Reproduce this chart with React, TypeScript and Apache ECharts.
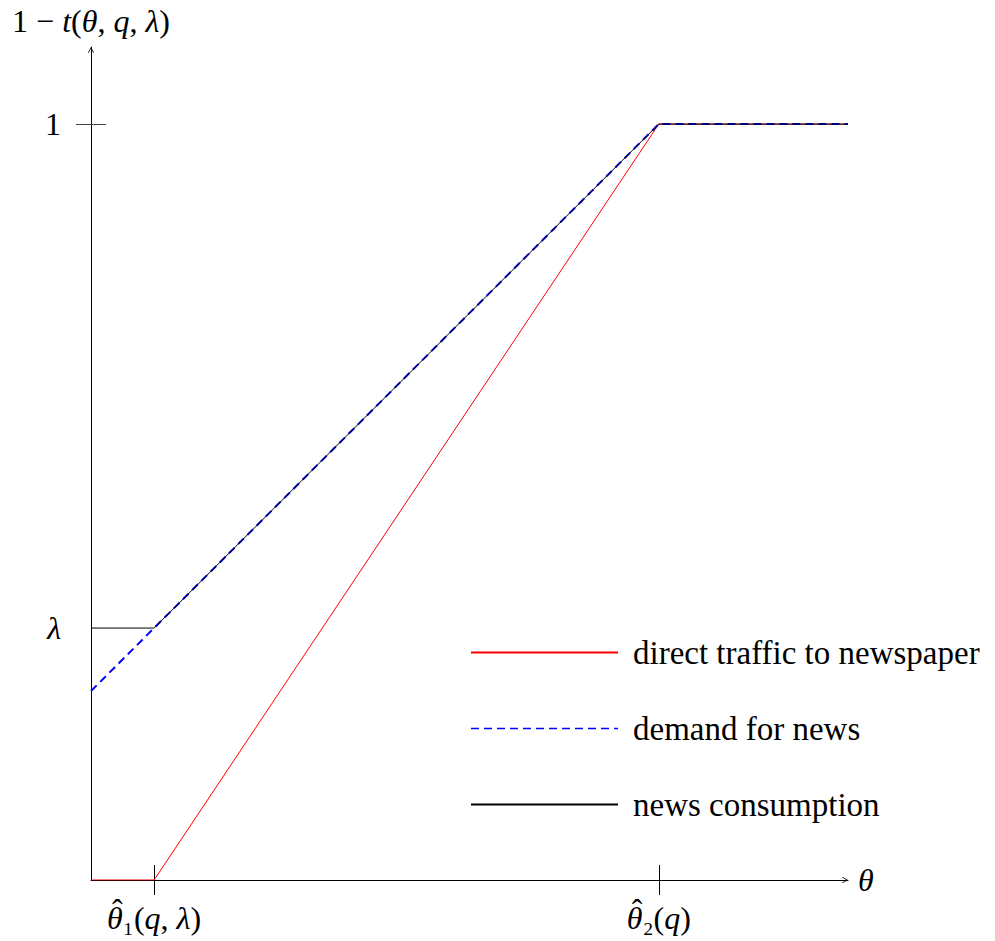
import React, { useEffect, useRef } from "react";
import * as echarts from "echarts";

const seriesNames = ["direct traffic to newspaper", "demand for news", "news consumption"];
const directTraffic = [[0, 0], [1, 0], [9, 1], [12, 1]];
const demandForNews = [[0, 0.25], [9, 1], [12, 1]];
const newsConsumption = [[0, 0.3333], [1, 0.3333], [9, 1], [12, 1]];
const xTickValues = [1, 9];
const xTickLabels = ["{hat|ˆ}\n{xi|θ}{xn|₁(}{xi|q}{xn|, }{xi|λ}{xn|)}", "{hat|ˆ}\n{xi|θ}{xn|₂(}{xi|q}{xn|)}"];
const yLabelValues = [0.3333, 1];
const yLabelTexts = ["{i|λ}", "{n|1}"];
const yTickValues = [1];
const xRange = [0, 12];
const yRange = [0, 1.102];

const FONT = "Liberation Serif";
const FS = 32;
const rich = {
  n: { fontFamily: FONT, fontSize: FS, color: "#000", fontStyle: "normal" },
  i: { fontFamily: FONT, fontSize: FS, color: "#000", fontStyle: "italic" },
};
const xRich = {
  xn: { fontFamily: FONT, fontSize: FS, color: "#000", fontStyle: "normal", lineHeight: 14 },
  xi: { fontFamily: FONT, fontSize: FS, color: "#000", fontStyle: "italic", lineHeight: 14 },
  hat: { fontFamily: FONT, fontSize: FS, color: "#000", fontStyle: "normal", lineHeight: 3, align: "left", padding: [0, 0, 0, 5] },
};
const ARROW = "path://M0,9 L5,0 L10,9 L9,10 L5,2.6 L1,10 Z";

export default function App() {
  const ref = useRef<HTMLDivElement>(null);
  useEffect(() => {
    if (!ref.current) return;
    const chart = echarts.init(ref.current, undefined, { renderer: "svg" });
    const lookup = (vals: number[], texts: string[]) => (v: number) => {
      const idx = vals.findIndex((x) => Math.abs(x - v) < 1e-6);
      return idx >= 0 ? texts[idx] : "";
    };
    chart.setOption({
      animation: false,
      backgroundColor: "#fff",
      textStyle: { fontFamily: FONT },
      grid: { left: 91, right: 147, top: 47, bottom: 61, containLabel: false, outerBoundsMode: "none" },
      legend: {
        orient: "vertical",
        left: 470,
        top: 635,
        padding: 0,
        itemWidth: 147,
        itemHeight: 2,
        itemGap: 41,
        selectedMode: false,
        data: [
          { name: seriesNames[0] },
          { name: seriesNames[1], lineStyle: { width: 1.5 } },
          { name: seriesNames[2] },
        ],
        itemStyle: { opacity: 0 },
        textStyle: { fontFamily: FONT, fontSize: 33, color: "#000", lineHeight: 35, padding: [0, 0, 0, 10] },
      },
      xAxis: [
        {
          type: "value",
          min: xRange[0],
          max: xRange[1],
          position: "bottom",
          name: "{i|θ}",
          nameLocation: "end",
          nameGap: 10,
          nameTextStyle: { rich, verticalAlign: "middle" },
          axisLine: { show: true, lineStyle: { color: "#000", width: 1 }, symbol: ["none", ARROW], symbolSize: [8, 6], symbolOffset: [0, -3] },
          axisTick: { show: true, inside: false, length: 15, customValues: xTickValues, lineStyle: { color: "#000", width: 1 } },
          axisLabel: {
            show: true,
            margin: 28,
            customValues: xTickValues,
            formatter: lookup(xTickValues, xTickLabels),
            rich: xRich,
          },
          splitLine: { show: false },
        },
        {
          type: "value",
          min: xRange[0],
          max: xRange[1],
          position: "bottom",
          axisLine: { show: false },
          axisTick: { show: true, inside: true, length: 15, customValues: xTickValues, lineStyle: { color: "#000", width: 1 } },
          axisLabel: { show: false },
          splitLine: { show: false },
        },
      ],
      yAxis: [
        {
          type: "value",
          min: yRange[0],
          max: yRange[1],
          position: "left",
          name: "{n|1 − }{i|t}{n|(}{i|θ}{n|, }{i|q}{n|, }{i|λ}{n|)}",
          nameLocation: "end",
          nameGap: 10,
          nameTextStyle: { rich, align: "center" },
          axisLine: { show: true, onZero: false, lineStyle: { color: "#000", width: 1 }, symbol: ["none", ARROW], symbolSize: [8, 6], symbolOffset: [0, -3] },
          axisTick: { show: true, inside: false, length: 15, customValues: yTickValues, lineStyle: { color: "#444", width: 1 } },
          axisLabel: {
            show: true,
            margin: 30,
            customValues: yLabelValues,
            formatter: lookup(yLabelValues, yLabelTexts),
            rich,
          },
          splitLine: { show: false },
        },
        {
          type: "value",
          min: yRange[0],
          max: yRange[1],
          position: "left",
          axisLine: { show: false, onZero: false },
          axisTick: { show: true, inside: true, length: 15, customValues: yTickValues, lineStyle: { color: "#444", width: 1 } },
          axisLabel: { show: false },
          splitLine: { show: false },
        },
      ],
      series: [
        {
          type: "line",
          name: seriesNames[0],
          data: directTraffic,
          symbol: "none",
          silent: true,
          z: 2,
          lineStyle: { color: "#ff0000", width: 1 },
          itemStyle: { color: "#ff0000" },
        },
        {
          type: "line",
          name: seriesNames[1],
          data: demandForNews,
          symbol: "none",
          silent: true,
          z: 3,
          lineStyle: { color: "#0000ff", width: 2, type: [8, 5] },
          itemStyle: { color: "#0000ff" },
        },
        {
          type: "line",
          name: seriesNames[2],
          data: newsConsumption,
          symbol: "none",
          silent: true,
          z: 4,
          lineStyle: { color: "#000", width: 1 },
          itemStyle: { color: "#000" },
        },
      ],
    });
    return () => chart.dispose();
  }, []);
  return <div ref={ref} style={{ position: "fixed", left: 0, top: 0, width: 995, height: 941 }} />;
}
